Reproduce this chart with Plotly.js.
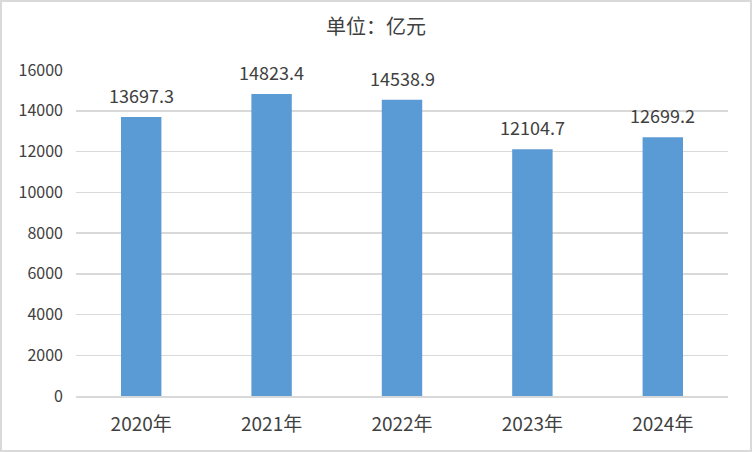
<!DOCTYPE html>
<html><head><meta charset="utf-8">
<script src="https://cdn.plot.ly/plotly-3.0.1.min.js"></script>
<style>
html,body{margin:0;padding:0;background:#fff;}
#wrap{position:relative;width:752px;height:452px;}
#chart{width:752px;height:452px;}
#border{position:absolute;left:0;top:0;width:752px;height:452px;box-sizing:border-box;border:2px solid #d9d9d9;pointer-events:none;}
</style></head>
<body>
<div id="wrap"><div id="chart"></div><div id="border"></div></div>
<script>
const categories = ["2020年","2021年","2022年","2023年","2024年"];
const values = [13697.3, 14823.4, 14538.9, 12104.7, 12699.2];
const labels = ["13697.3","14823.4","14538.9","12104.7","12699.2"];
const yTicks = [0,2000,4000,6000,8000,10000,12000,14000,16000];

const font = '"Noto Sans CJK SC", "Noto Sans", sans-serif';

const trace = {
  type: 'bar', x: categories, y: values,
  marker: {color: '#5b9bd5'}, width: 0.31,
  hoverinfo: 'none'
};
const annotations = categories.map((c,i)=>({
  x: c, y: values[i], text: labels[i], showarrow:false,
  yanchor:'middle', yshift: 22, xref:'x', yref:'y',
  font:{family: font, size: 18, color:'#404040'}
}));
const layout = {
  width: 752, height: 452,
  margin: {l:76, r:24, t:70, b:56},
  paper_bgcolor:'#fff', plot_bgcolor:'#fff',
  showlegend:false,
  title: {text:'单位：亿元', x:0.5, xanchor:'center', y:1-27/452, yanchor:'middle',
    font:{family: font, size:20, color:'#404040'}},
  xaxis: {type:'category', tickfont:{family:font, size:19, color:'#404040'},
    showgrid:false, showline:true, linecolor:'#d9d9d9', linewidth:2, ticks:'', ticklabelstandoff:10,
    fixedrange:true},
  yaxis: {range:[0,16000], tickvals:yTicks, ticktext:yTicks.map(String),
    tickfont:{family:font, size:16, color:'#404040'},
    showgrid:true, gridcolor:'#d9d9d9', gridwidth:1.5, zeroline:false, showline:false,
    ticks:'', ticklabelstandoff:12, fixedrange:true},
  annotations: annotations,
  bargap: 0.69
};
Plotly.newPlot('chart',[trace],layout,{displayModeBar:false, staticPlot:true});
</script>
</body></html>
